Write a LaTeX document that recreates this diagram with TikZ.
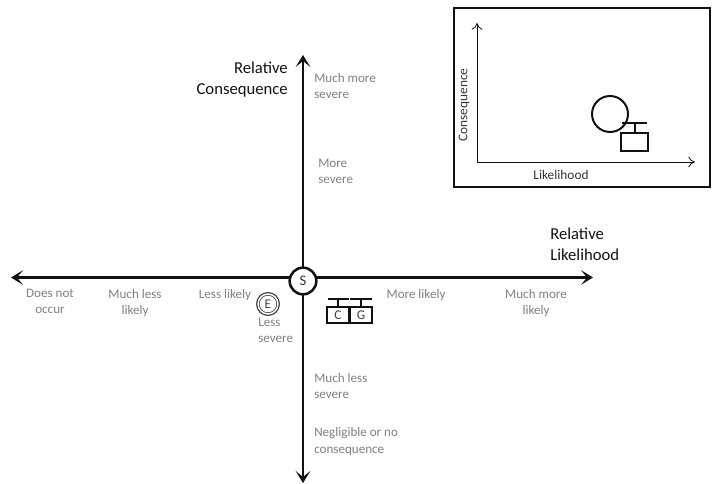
\documentclass[tikz,border=0pt]{standalone}
\usepackage{fontspec}
\setmainfont{Carlito}
\usetikzlibrary{arrows.meta}
\definecolor{lab}{HTML}{808080}
\definecolor{ink}{HTML}{111111}
\tikzset{
	axis/.style={ink, line width=2.2pt, {Stealth[length=9pt,width=11pt,inset=4.5pt]}-{Stealth[length=9pt,width=11pt,inset=4.5pt]}},
	thinaxis/.style={ink, line width=0.6pt, -{To[length=5pt,width=8pt]}},
	glyph/.style={ink, line width=1.5pt},
	lvl/.style={lab, font=\fontsize{9.8}{12.2}\selectfont, align=center, inner sep=0pt},
	lvlleft/.style={lvl, align=left, anchor=west},
	title/.style={ink, font=\fontsize{12.5}{15.5}\selectfont, align=left, inner sep=0pt},
	small/.style={ink!85, font=\fontsize{10}{12}\selectfont, inner sep=0pt},
	box/.style={glyph, draw, fill=white, text=ink!80, inner sep=0pt, minimum width=16pt, minimum height=12pt, font=\fontsize{10}{12}\selectfont}
}
\begin{document}
\begin{tikzpicture}[x=0.75pt,y=-0.75pt]
	\useasboundingbox (0,0) rectangle (721,484);

	% main axes
	\coordinate (west) at (11,277.5);
	\coordinate (east) at (593,277.5);
	\coordinate (north) at (303,55);
	\coordinate (south) at (303,483);
	\draw[axis] (west) -- (east);
	\draw[axis] (south) -- (north);

	\node[circle, draw=ink, fill=white, line width=1.9pt, minimum size=20pt, inner sep=0pt, font=\fontsize{11}{12}\selectfont, text=ink!85] (start) at (303,281) {S};

	\node[title, align=right, anchor=east] (relcons) at (288,79.5) {Relative\\ Consequence};
	\node[title, anchor=west] (rellike) at (550,244) {Relative\\ Likelihood};

	% levels on the vertical
	\node[lvlleft] (mmsev) at (314,86) {Much more\\ severe};
	\node[lvlleft] (msev) at (318,171) {More\\ severe};
	\node[lvlleft] (lsev) at (258,330) {Less\\ severe};
	\node[lvlleft] (mlsev) at (314,386) {Much less\\ severe};
	\node[lvlleft] (negl) at (314,441.5) {Negligible or no\\ consequence};

	% levels on the horizontal
	\node[lvl] (none) at (50,301) {Does not\\ occur};
	\node[lvl] (mless) at (135,303) {Much less\\ likely};
	\node[lvl] (less) at (225,295) {Less likely};
	\node[lvl] (more) at (416,295) {More likely};
	\node[lvl] (mmore) at (536,303) {Much more\\ likely};

	% E marker
	\node[circle, draw=ink!80, line width=0.6pt, double=white, double distance=1.2pt, minimum size=15pt, inner sep=0pt, font=\fontsize{10}{12}\selectfont, text=ink!80] (ev) at (268,304) {E};
	\draw[ink!80, line width=0.7pt] (ev) circle (11.5);

	% C and G markers
	\node[box] (cbox) at (338,315) {C};
	\node[box] (gbox) at (361,315) {G};
	\coordinate (cbar) at (338,299);
	\coordinate (gbar) at (361,299);
	\draw[glyph] (cbox) -- (cbar);
	\draw[glyph] (gbox) -- (gbar);
	\draw[glyph] (328,299) -- (349,299);
	\draw[glyph] (350,299) -- (372,299);

	% inset
	\draw[ink, line width=1.6pt] (454,8) rectangle (710,187);
	\coordinate (origin) at (477,162);
	\coordinate (ctop) at (477,23);
	\coordinate (lend) at (695,162);
	\draw[thinaxis] (origin) -- (ctop);
	\draw[thinaxis] (origin) -- (lend);
	\node[small, rotate=90] (conslab) at (464,105) {Consequence};
	\node[small] (likelab) at (561,175) {Likelihood};

	\node[circle, glyph, draw, minimum size=27pt, inner sep=0pt] (ring) at (610,114) {};
	\node[glyph, draw, minimum width=20pt, minimum height=14pt, inner sep=0pt] (rbox) at (634.5,142) {};
	\coordinate (rbar) at (634.5,123);
	\draw[glyph] (rbox) -- (rbar);
	\draw[glyph] (622,123) -- (647,123);
\end{tikzpicture}
\end{document}
